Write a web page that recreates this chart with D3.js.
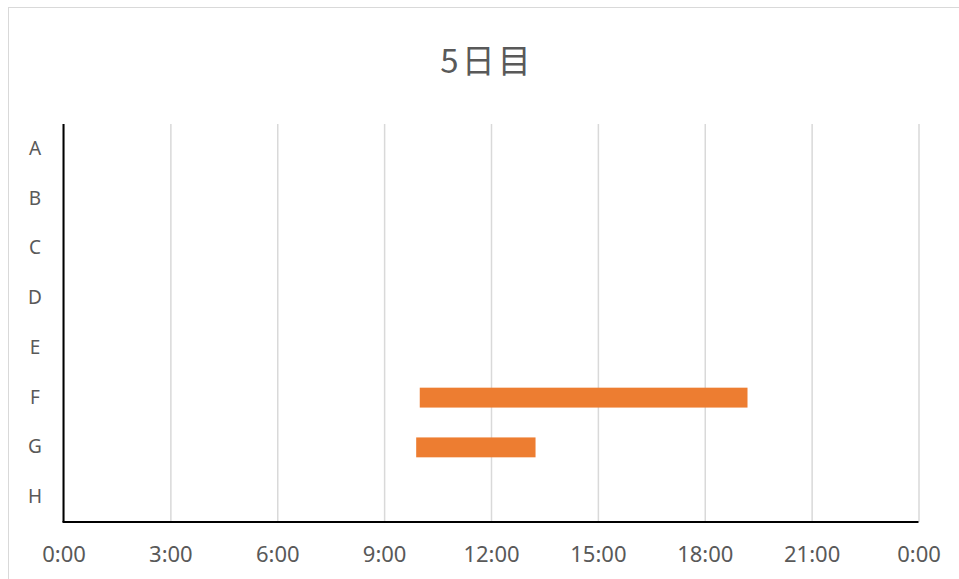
<!DOCTYPE html>
<html>
<head>
<meta charset="utf-8">
<script src="https://cdn.jsdelivr.net/npm/d3@7"></script>
<style>
  body { margin: 0; background: #fff; }
  text { font-family: "Noto Sans", "Noto Sans CJK JP", sans-serif; fill: #595959; }
</style>
</head>
<body>
<svg width="959" height="579"></svg>
<script>
var title = "5日目";
var categories = ["A", "B", "C", "D", "E", "F", "G", "H"];
var barNames = ["F", "G"];
var barStart = ["10:00", "9:54"];
var barEnd = ["19:12", "13:15"];
var tickHours = [0, 3, 6, 9, 12, 15, 18, 21, 24];

function toHours(s) {
    var p = s.split(":");
    return +p[0] + (+p[1]) / 60;
}

var svg = d3.select("svg");

var plotLeft = 63.5, plotRight = 918.5, plotTop = 124, plotBottom = 522;

// chart border
svg.append("rect")
    .attr("x", 8.5).attr("y", 7.5)
    .attr("width", 960).attr("height", 600)
    .attr("fill", "none")
    .attr("stroke", "#d9d9d9")
    .attr("stroke-width", 1);

var x = d3.scaleLinear().domain([0, 24]).range([plotLeft, plotRight]);

var y = d3.scaleBand()
    .domain(categories)
    .range([plotTop, plotBottom])
    .paddingInner(0.6)
    .paddingOuter(0.3);

// gridlines
svg.append("g")
    .attr("transform", "translate(0," + plotBottom + ")")
    .call(d3.axisBottom(x).tickValues(tickHours).tickSize(-(plotBottom - plotTop)).tickFormat(""))
    .call(function (g) { g.select(".domain").remove(); })
    .selectAll("line")
    .attr("stroke", "#d9d9d9")
    .attr("stroke-width", 1.5);

// bars
var bars = barNames.map(function (n, i) {
    return { name: n, start: toHours(barStart[i]), end: toHours(barEnd[i]) };
});

svg.append("g")
    .selectAll("rect")
    .data(bars)
    .enter().append("rect")
    .attr("x", function (d) { return x(d.start); })
    .attr("y", function (d) { return y(d.name); })
    .attr("width", function (d) { return x(d.end) - x(d.start); })
    .attr("height", y.bandwidth())
    .attr("fill", "#ed7d31");

// x axis labels
svg.append("g")
    .attr("transform", "translate(0," + plotBottom + ")")
    .call(d3.axisBottom(x).tickValues(tickHours).tickSize(0).tickPadding(24)
        .tickFormat(function (h) { return (h % 24) + ":00"; }))
    .call(function (g) { g.select(".domain").remove(); })
    .selectAll("text")
    .style("font-size", "22px")
    .attr("fill", "#595959");

// y axis labels
svg.append("g")
    .call(d3.axisLeft(y).tickSize(0))
    .call(function (g) { g.select(".domain").remove(); })
    .selectAll("text")
    .attr("x", 35)
    .attr("text-anchor", "middle")
    .style("font-size", "19px")
    .attr("fill", "#595959");

// axis lines
svg.append("line")
    .attr("x1", plotLeft).attr("x2", plotLeft)
    .attr("y1", plotTop).attr("y2", plotBottom)
    .attr("stroke", "#000").attr("stroke-width", 2);
svg.append("line")
    .attr("x1", plotLeft - 1).attr("x2", plotRight)
    .attr("y1", plotBottom).attr("y2", plotBottom)
    .attr("stroke", "#000").attr("stroke-width", 2);

// title
svg.append("text")
    .attr("x", 487)
    .attr("y", 73)
    .attr("text-anchor", "middle")
    .style("font-size", "33px")
    .style("letter-spacing", "3px")
    .style("font-family", "'Noto Sans CJK JP', 'Noto Sans', sans-serif")
    .text(title);
</script>
</body>
</html>
